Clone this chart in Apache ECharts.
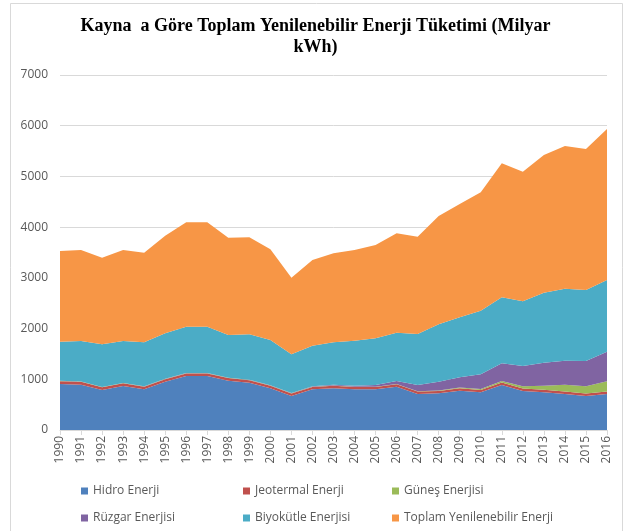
<!DOCTYPE html>
<html>
<head>
<meta charset="utf-8">
<script src="https://cdn.jsdelivr.net/npm/echarts@6/dist/echarts.min.js"></script>
<style>html,body{margin:0;padding:0;background:#fff;}#c{width:631px;height:531px;}</style>
</head>
<body>
<div id="c"></div>
<script>
const years = ['1990','1991','1992','1993','1994','1995','1996','1997','1998','1999','2000','2001','2002','2003','2004','2005','2006','2007','2008','2009','2010','2011','2012','2013','2014','2015','2016'];
const hidro = [907,894,789,868,802,953,1065,1065,973,933,822,670,802,825,802,802,855,710,723,776,743,888,769,743,710,670,710];
const jeotermal = [55,55,52,52,52,50,50,50,50,50,50,48,48,48,48,48,48,48,48,48,48,50,50,50,50,50,50];
const gunes = [5,5,5,5,5,5,5,5,5,5,5,5,5,5,5,5,6,7,9,12,17,30,45,80,130,145,200];
const ruzgar = [3,3,3,3,3,3,3,3,3,4,5,6,10,12,19,33,57,122,173,203,290,347,398,455,477,496,585];
const biyokutle = [772,798,840,827,867,895,915,915,842,894,893,763,798,839,888,920,953,1006,1131,1183,1255,1301,1275,1380,1420,1400,1413];
const toplam = [1788,1794,1709,1794,1768,1926,2057,2057,1920,1914,1788,1512,1689,1755,1787,1840,1959,1919,2136,2235,2334,2642,2557,2715,2813,2780,2977];
const yTicks = [0,1000,2000,3000,4000,5000,6000,7000];

const names = ['Hidro Enerji','Jeotermal Enerji','Güneş Enerjisi','Rüzgar Enerjisi','Biyokütle Enerjisi','Toplam Yenilenebilir Enerji'];
const colors = ['#4F81BD','#C0504D','#9BBB59','#8064A2','#4BACC6','#F79646'];
const datas = [hidro, jeotermal, gunes, ruzgar, biyokutle, toplam];
const font = '"Open Sans", "Noto Sans", sans-serif';

const chart = echarts.init(document.getElementById('c'), null, {renderer:'canvas'});
const legendPos = [[76,480],[238,480],[387,480],[76,507],[238,507],[387,507]];
chart.setOption({
  animation:false,
  backgroundColor:'#fff',
  color: colors,
  graphic:[{type:'rect', shape:{x:10.5,y:3.5,width:612,height:540}, style:{fill:'none', stroke:'#d9d9d9', lineWidth:1}}],
  title:{
    text:'Kayna  a Göre Toplam Yenilenebilir Enerji Tüketimi (Milyar\nkWh)',
    left:'center', top:11,
    textStyle:{fontFamily:'"Liberation Serif", "Times New Roman", serif', fontWeight:'bold', fontSize:18, color:'#000', lineHeight:21}
  },
  legend: names.map((n,i)=>({
    data:[n], left:legendPos[i][0], top:legendPos[i][1], icon:'rect', itemWidth:7, itemHeight:7, itemGap:4,
    textStyle:{fontFamily:font, fontSize:12, color:'#595959'}, selectedMode:false
  })),
  grid:{left:60, right:24, top:75, bottom:101, containLabel:false},
  xAxis:{
    type:'category', data:years, boundaryGap:false,
    axisLine:{lineStyle:{color:'#d9d9d9'}},
    axisTick:{show:true, alignWithLabel:true, lineStyle:{color:'#d9d9d9'}, length:5},
    axisLabel:{rotate:90, fontFamily:font, fontSize:12, color:'#595959', margin:6, interval:0},
    splitLine:{show:false}
  },
  yAxis:{
    type:'value', min:yTicks[0], max:yTicks[yTicks.length-1], interval:1000,
    axisLine:{show:false}, axisTick:{show:false},
    axisLabel:{fontFamily:font, fontSize:12, color:'#595959', margin:12, formatter:(v)=>String(v)},
    splitLine:{lineStyle:{color:'#d9d9d9'}}
  },
  series: names.map((n,i)=>({
    name:n, type:'line', stack:'total', data:datas[i], showSymbol:false, symbol:'none',
    lineStyle:{width:0}, areaStyle:{color:colors[i], opacity:1}, itemStyle:{color:colors[i]}
  }))
});
</script>
</body>
</html>
